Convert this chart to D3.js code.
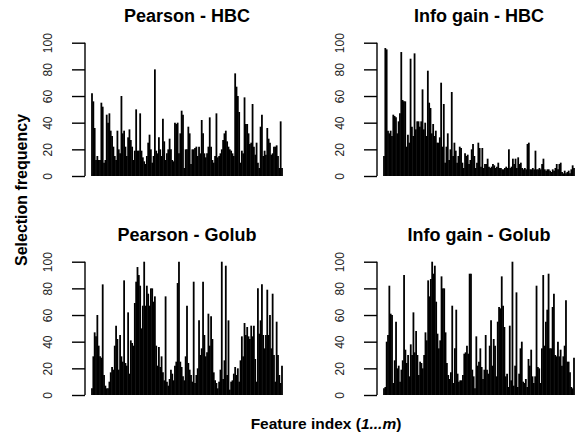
<!DOCTYPE html>
<html>
<head>
<meta charset="utf-8">
<script src="https://cdn.jsdelivr.net/npm/d3@7"></script>
<style>
  body { margin: 0; background: #fff; }
  text { font-family: "Liberation Sans", Arial, sans-serif; }
</style>
</head>
<body>
<script>
// selection frequency per feature
var pearsonHBC = [62, 56, 36, 12, 15, 12, 12, 55, 52, 10, 12, 46, 40, 47, 34, 30, 22, 15, 12, 34,
  20, 17, 60, 32, 34, 22, 15, 29, 35, 27, 22, 12, 19, 50, 19, 19, 47, 19, 14, 11,
  9, 15, 25, 31, 20, 10, 15, 80, 19, 17, 29, 20, 15, 43, 26, 12, 17, 20, 28, 20,
  12, 11, 40, 39, 40, 17, 32, 49, 46, 6, 20, 20, 37, 32, 9, 20, 20, 21, 22, 15,
  22, 17, 42, 32, 17, 14, 17, 22, 44, 22, 12, 10, 15, 47, 14, 15, 17, 20, 27, 32,
  34, 26, 22, 20, 19, 17, 15, 77, 67, 60, 48, 10, 19, 17, 59, 39, 39, 32, 24, 25,
  54, 22, 16, 25, 10, 6, 37, 46, 15, 19, 16, 36, 28, 25, 16, 17, 22, 22, 23, 15,
  6, 41, 6];

var infoHBC = [15, 96, 95, 34, 32, 34, 30, 46, 45, 44, 32, 41, 47, 93, 57, 56, 56, 22, 31, 25,
  88, 37, 30, 92, 35, 41, 41, 37, 41, 65, 35, 40, 30, 79, 55, 51, 32, 39, 30, 34,
  25, 25, 29, 70, 22, 54, 10, 22, 32, 12, 20, 63, 15, 25, 19, 10, 15, 22, 21, 10,
  6, 17, 15, 16, 9, 12, 20, 24, 15, 6, 10, 25, 21, 7, 21, 6, 9, 9, 13, 7,
  6, 7, 9, 8, 6, 7, 10, 6, 6, 5, 5, 6, 7, 6, 20, 6, 7, 13, 9, 13,
  6, 14, 9, 10, 6, 5, 6, 5, 24, 25, 5, 5, 6, 5, 19, 5, 5, 6, 5, 9,
  13, 5, 4, 5, 5, 4, 3, 5, 4, 6, 9, 5, 9, 10, 3, 2, 4, 2, 3, 4,
  2, 5, 8, 6];

var pearsonGolub = [5, 29, 47, 44, 60, 37, 29, 28, 83, 15, 7, 5, 5, 10, 17, 21, 19, 37, 52, 42,
  19, 45, 29, 25, 86, 24, 22, 62, 16, 41, 39, 37, 69, 85, 96, 90, 82, 50, 67, 100,
  67, 82, 76, 67, 80, 80, 70, 74, 37, 22, 36, 21, 29, 17, 11, 74, 10, 7, 12, 19,
  16, 11, 22, 25, 84, 100, 25, 21, 14, 11, 29, 67, 24, 19, 15, 10, 85, 9, 15, 20,
  56, 30, 35, 85, 45, 29, 32, 61, 37, 59, 42, 17, 11, 9, 5, 10, 19, 100, 12, 26,
  97, 15, 56, 4, 10, 11, 16, 21, 15, 20, 10, 26, 44, 29, 54, 45, 51, 44, 42, 52,
  44, 52, 27, 10, 80, 46, 56, 83, 45, 35, 45, 79, 45, 60, 35, 76, 30, 10, 55, 30,
  15, 9, 22];

var infoGolub = [5, 6, 40, 45, 82, 61, 60, 9, 26, 55, 20, 22, 10, 19, 26, 90, 34, 24, 30, 14,
  38, 30, 62, 32, 48, 30, 15, 25, 24, 20, 30, 47, 41, 86, 74, 87, 100, 91, 97, 70,
  46, 35, 41, 89, 80, 80, 47, 24, 15, 12, 17, 67, 9, 35, 64, 16, 10, 11, 11, 15,
  31, 32, 37, 31, 91, 91, 19, 14, 5, 44, 22, 25, 35, 21, 12, 19, 45, 19, 16, 37,
  56, 22, 42, 37, 14, 55, 66, 65, 89, 67, 51, 14, 16, 6, 52, 11, 100, 7, 22, 77,
  6, 16, 35, 40, 10, 9, 12, 6, 27, 22, 34, 14, 9, 14, 82, 21, 20, 9, 35, 90,
  37, 55, 64, 91, 35, 35, 66, 76, 30, 29, 40, 29, 34, 22, 29, 37, 71, 25, 25, 17,
  6, 5, 28];

var panelTitles = ["Pearson - HBC", "Info gain - HBC", "Pearson - Golub", "Info gain - Golub"];
var panelData = [pearsonHBC, infoHBC, pearsonGolub, infoGolub];
var yTicks = [0, 20, 40, 60, 80, 100];

var width = 582;
var height = 435;

var svg = d3.select('body')
            .append('svg')
            .attr('width', width)
            .attr('height', height);

// panel layout (2 x 2)
var colOffset = [0, 292];
var rowOffset = [0, 219];
var axisX = 85;
var dataLeft = 92;
var dataRight = 282;
var plotTop = 42.7;
var plotBottom = 176;

panelData.forEach(function(values, k) {
    var ox = colOffset[k % 2];
    var oy = rowOffset[Math.floor(k / 2)];

    var g = svg.append("g")
               .attr("transform", "translate(" + ox + "," + oy + ")");

    var x = d3.scaleLinear()
              .domain([0, values.length - 1])
              .range([dataLeft, dataRight]);

    var y = d3.scaleLinear()
              .domain([0, 100])
              .range([plotBottom, plotTop]);

    // spikes, like R's type = "h"
    g.selectAll(".spike")
     .data(values)
     .enter().append("line")
     .attr("class", "spike")
     .attr("x1", function(d, i) { return x(i); })
     .attr("x2", function(d, i) { return x(i); })
     .attr("y1", y(0))
     .attr("y2", function(d) { return y(d); })
     .attr("stroke", "black")
     .attr("stroke-width", 1.8);

    // y axis
    var yAxis = d3.axisLeft(y)
                  .tickValues(yTicks)
                  .tickSize(13)
                  .tickFormat(d3.format("d"));

    var ax = g.append("g")
              .attr("transform", "translate(" + axisX + ",0)")
              .call(yAxis);
    ax.select(".domain")
      .attr("d", "M0," + y(100) + "V" + y(0))
      .attr("stroke", "black")
      .attr("stroke-width", 1.4);
    ax.selectAll(".tick line")
      .attr("stroke", "black")
      .attr("stroke-width", 1.4);
    ax.selectAll(".tick text")
      .attr("x", 0)
      .attr("y", 0)
      .attr("dy", null)
      .attr("transform", "translate(-33,0) rotate(-90)")
      .attr("text-anchor", "middle")
      .style("font-size", "12px")
      .style("font-family", "Liberation Sans, Arial, sans-serif")
      .attr("fill", "#222");

    g.append("text")
     .attr("x", 187)
     .attr("y", 22)
     .attr("text-anchor", "middle")
     .style("font-size", "18px")
     .style("font-weight", "bold")
     .text(panelTitles[k]);
});

// shared axis labels
svg.append("text")
   .attr("transform", "translate(27,190) rotate(-90)")
   .attr("text-anchor", "middle")
   .style("font-size", "16px")
   .style("font-weight", "bold")
   .text("Selection frequency");

var xl = svg.append("text")
            .attr("x", 326)
            .attr("y", 429)
            .attr("text-anchor", "middle")
            .style("font-size", "15.5px")
            .style("font-weight", "bold");
xl.append("tspan").text("Feature index (");
xl.append("tspan").style("font-style", "italic").text("1...m");
xl.append("tspan").text(")");
</script>
</body>
</html>
